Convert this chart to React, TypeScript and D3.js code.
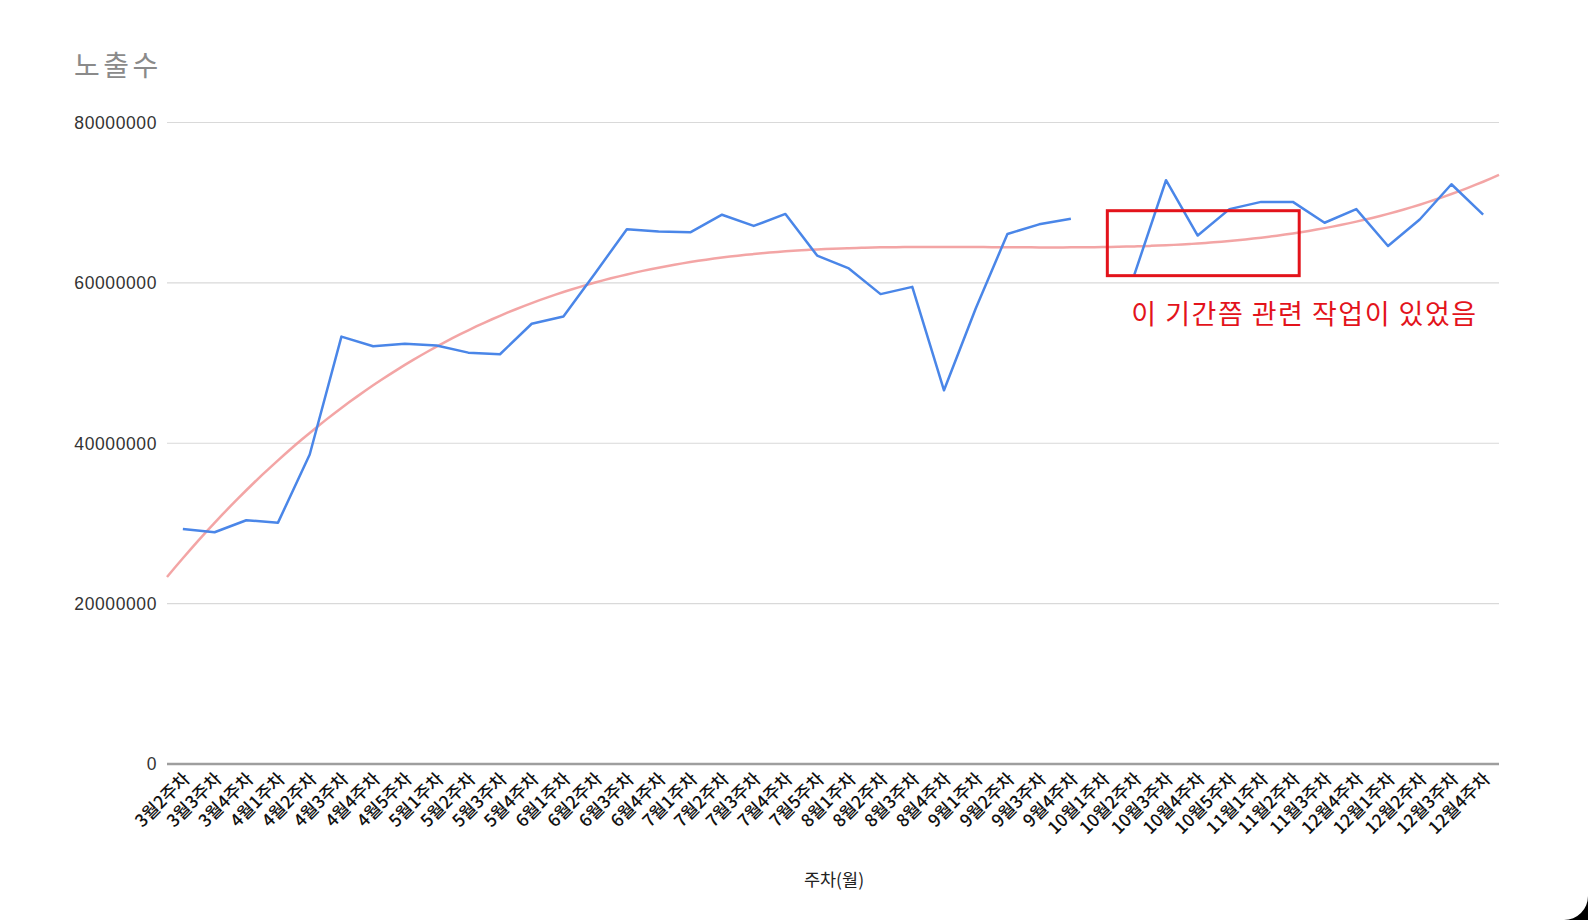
import React, { useEffect, useRef } from 'react';
import * as d3 from 'd3';

// 주차 라벨 (x축)
const weeks = [
  '3월2주차', '3월3주차', '3월4주차',
  '4월1주차', '4월2주차', '4월3주차', '4월4주차', '4월5주차',
  '5월1주차', '5월2주차', '5월3주차', '5월4주차',
  '6월1주차', '6월2주차', '6월3주차', '6월4주차',
  '7월1주차', '7월2주차', '7월3주차', '7월4주차', '7월5주차',
  '8월1주차', '8월2주차', '8월3주차', '8월4주차',
  '9월1주차', '9월2주차', '9월3주차', '9월4주차',
  '10월1주차', '10월2주차', '10월3주차', '10월4주차', '10월5주차',
  '11월1주차', '11월2주차', '11월3주차', '12월4주차',
  '12월1주차', '12월2주차', '12월3주차', '12월4주차',
];

// 노출수 (10월1주차는 값 없음)
const impressions: (number | null)[] = [
  29300000, 28900000, 30400000, 30100000, 38600000, 53300000, 52100000, 52400000,
  52200000, 51300000, 51100000, 54900000, 55800000, 61200000, 66700000, 66400000,
  66300000, 68500000, 67100000, 68600000, 63400000, 61800000, 58600000, 59500000,
  46600000, 56800000, 66100000, 67300000, 68000000, null, 61000000, 72800000,
  65900000, 69200000, 70100000, 70100000, 67500000, 69200000, 64600000, 67900000,
  72300000, 68500000,
];

const yTicks = [0, 20000000, 40000000, 60000000, 80000000];

// 주석 상자 (주차 인덱스, 값 기준)
const noteIndexRange = [29.15, 35.2];
const noteValueRange = [60900000, 69000000];
const noteText = '이 기간쯤 관련 작업이 있었음';

const W = 1588;
const H = 920;

// 3차 다항 추세선 (최소제곱)
function cubicFit(xs: number[], ys: number[]) {
  const n = 4;
  const A = Array.from({ length: n }, () => new Array(n + 1).fill(0));
  xs.forEach((x, k) => {
    for (let r = 0; r < n; r++) {
      for (let c = 0; c < n; c++) A[r][c] += Math.pow(x, r + c);
      A[r][n] += ys[k] * Math.pow(x, r);
    }
  });
  for (let i = 0; i < n; i++) {
    let p = i;
    for (let r = i + 1; r < n; r++) if (Math.abs(A[r][i]) > Math.abs(A[p][i])) p = r;
    [A[i], A[p]] = [A[p], A[i]];
    for (let r = 0; r < n; r++) {
      if (r === i) continue;
      const f = A[r][i] / A[i][i];
      for (let c = i; c <= n; c++) A[r][c] -= f * A[i][c];
    }
  }
  const coef = A.map((row, i) => row[n] / row[i]);
  return (x: number) => coef[0] + coef[1] * x + coef[2] * x * x + coef[3] * x * x * x;
}

const App: React.FC = () => {
  const svgRef = useRef<SVGSVGElement>(null);

  useEffect(() => {
    if (!svgRef.current) return;
    const svg = d3.select(svgRef.current);
    svg.selectAll('*').remove();

    const left = 167, right = 1499, top = 122.5, bottom = 764;

    // 같은 라벨이 두 번 나오므로 인덱스로 배치
    const idx = d3.range(weeks.length);
    const x = d3.scalePoint<number>().domain(idx).range([left, right]).padding(0.5);
    const y = d3.scaleLinear().domain([0, 80000000]).range([bottom, top]);
    const xi = d3.scaleLinear().domain([0, weeks.length - 1]).range([x(0)!, x(weeks.length - 1)!]);

    svg.append('rect').attr('width', W).attr('height', H).attr('fill', '#fff');

    // 제목
    svg.append('text')
      .attr('x', 74).attr('y', 76)
      .attr('font-family', '"Noto Sans CJK KR", sans-serif')
      .attr('font-size', 28).attr('letter-spacing', 3.5)
      .attr('fill', '#8a8a8a')
      .text('노출수');

    // 격자선
    const grid = svg.append('g');
    yTicks.forEach(t => {
      grid.append('line')
        .attr('x1', left).attr('x2', right)
        .attr('y1', y(t)).attr('y2', y(t))
        .attr('stroke', t === 0 ? '#9e9e9e' : '#d9d9d9')
        .attr('stroke-width', t === 0 ? 2.5 : 1.2);
      grid.append('text')
        .attr('x', 157).attr('y', y(t))
        .attr('dy', '0.36em')
        .attr('text-anchor', 'end')
        .attr('font-family', '"Liberation Sans", Arial, sans-serif')
        .attr('font-size', 17.5)
        .attr('letter-spacing', 0.6)
        .attr('fill', '#333')
        .text(String(t));
    });

    // x축 라벨
    const xl = svg.append('g');
    idx.forEach(i => {
      xl.append('text')
        .attr('transform', `translate(${x(i)! + 8},${780}) rotate(-45)`)
        .attr('text-anchor', 'end')
        .attr('font-family', '"Noto Sans CJK KR", sans-serif')
        .attr('font-size', 17.5)
        .attr('font-weight', 500)
        .attr('fill', '#111')
        .text(weeks[i]);
    });

    svg.append('text')
      .attr('x', 834).attr('y', 886)
      .attr('text-anchor', 'middle')
      .attr('font-family', '"Noto Sans CJK KR", sans-serif')
      .attr('font-size', 17.5)
      .attr('fill', '#222')
      .text('주차(월)');

    // 추세선
    const pts = impressions
      .map((v, i) => ({ i, v }))
      .filter(d => d.v != null) as { i: number; v: number }[];
    const fit = cubicFit(pts.map(d => d.i), pts.map(d => d.v));
    const span = d3.range(-0.5, weeks.length - 0.5 + 0.001, 0.25);
    svg.append('path')
      .datum(span)
      .attr('fill', 'none')
      .attr('stroke', '#f19595')
      .attr('stroke-opacity', 0.85)
      .attr('stroke-width', 2.5)
      .attr('d', d3.line<number>().x(t => xi(t)).y(t => y(fit(t))).curve(d3.curveMonotoneX));

    // 노출수 선
    svg.append('path')
      .datum(impressions)
      .attr('fill', 'none')
      .attr('stroke', '#4a86e8')
      .attr('stroke-width', 2.5)
      .attr('stroke-linejoin', 'round')
      .attr('d', d3.line<number | null>()
        .defined(v => v != null)
        .x((_, i) => x(i)!)
        .y(v => y(v as number)));

    // 주석
    const bx0 = xi(noteIndexRange[0]), bx1 = xi(noteIndexRange[1]);
    const by0 = y(noteValueRange[1]), by1 = y(noteValueRange[0]);
    svg.append('rect')
      .attr('x', bx0).attr('y', by0)
      .attr('width', bx1 - bx0).attr('height', by1 - by0)
      .attr('fill', 'none')
      .attr('stroke', '#e3131b')
      .attr('stroke-width', 3);
    svg.append('text')
      .attr('x', bx0 + 24).attr('y', by1 + 48)
      .attr('font-family', '"Noto Sans CJK KR", sans-serif')
      .attr('font-size', 27)
      .attr('letter-spacing', 1.5)
      .attr('fill', '#e3131b')
      .text(noteText);

    // 화면 모서리
    svg.append('path')
      .attr('d', `M${W},${H - 24} A24,24 0 0 1 ${W - 24},${H} L${W},${H} Z`)
      .attr('fill', '#000');
  }, []);

  return (
    <svg
      ref={svgRef}
      width={W}
      height={H}
      style={{ position: 'absolute', left: 0, top: 0, display: 'block' }}
    />
  );
};

export default App;
